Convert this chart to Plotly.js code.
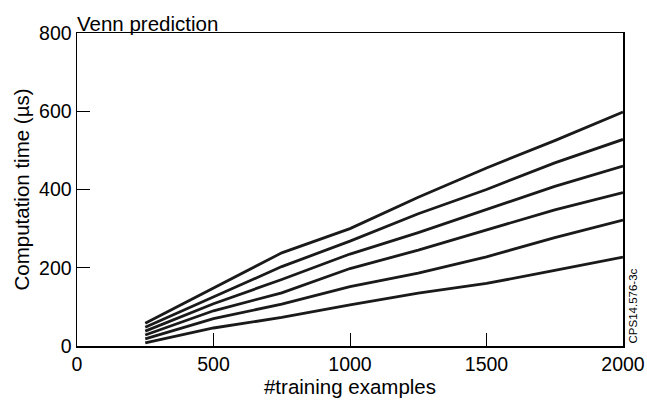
<!DOCTYPE html>
<html>
<head>
<meta charset="utf-8">
<script src="https://cdn.plot.ly/plotly-3.0.1.min.js"></script>
<style>html,body{margin:0;padding:0;background:#fff;}#chart{width:647px;height:401px;}</style>
</head>
<body>
<div id="chart"></div>
<script>
const trainingExamples = [250, 500, 750, 1000, 1250, 1500, 1750, 2000];
const series1 = [58, 148, 238, 300, 380, 455, 525, 598];
const series2 = [48, 126, 203, 268, 338, 400, 468, 528];
const series3 = [38, 108, 170, 235, 290, 350, 408, 460];
const series4 = [28, 90, 136, 198, 245, 296, 348, 392];
const series5 = [18, 70, 107, 152, 186, 228, 277, 322];
const series6 = [8, 46, 73, 105, 135, 160, 193, 227];
const allSeries = [series1, series2, series3, series4, series5, series6];
const xTicks = [0, 500, 1000, 1500, 2000];
const yTicks = [0, 200, 400, 600, 800];

const FONT = 'Liberation Sans, Arial, Helvetica, sans-serif';
const traces = allSeries.map(s => ({
  x: trainingExamples, y: s, type: 'scatter', mode: 'lines',
  line: {color: '#1a1a1a', width: 2.8}, showlegend: false, hoverinfo: 'skip'
}));

const layout = {
  width: 647, height: 401,
  margin: {l: 77, r: 24, t: 33, b: 55},
  paper_bgcolor: '#fff', plot_bgcolor: '#fff',
  font: {family: FONT, color: '#000', size: 18},
  xaxis: {
    range: [0, 2000], tickvals: xTicks, ticktext: xTicks.map(String),
    ticks: 'inside', ticklen: 13, tickwidth: 1, tickcolor: '#000',
    showline: true, linecolor: '#000', linewidth: 1.5, mirror: true,
    showgrid: false, zeroline: false, tickfont: {size: 19.5},
    title: {text: '#training examples', font: {size: 20.5}, standoff: 3}
  },
  yaxis: {
    range: [0, 800], tickvals: yTicks, ticktext: yTicks.map(String),
    ticks: 'inside', ticklen: 13, tickwidth: 1, tickcolor: '#000',
    showline: true, linecolor: '#000', linewidth: 1.5, mirror: true,
    showgrid: false, zeroline: false, tickfont: {size: 19.5},
    title: {text: 'Computation time (µs)', font: {size: 20.5}, standoff: 4}
  },
  annotations: [
    {text: 'Venn prediction', xref: 'paper', yref: 'paper', x: 0, y: 1,
     xanchor: 'left', yanchor: 'bottom', showarrow: false, font: {size: 20.5}, yshift: -4, xshift: -2},
    {text: 'CPS14.576-3c', xref: 'paper', yref: 'paper', x: 1, y: 0,
     xanchor: 'left', yanchor: 'bottom', showarrow: false, textangle: -90,
     font: {size: 11.5}, xshift: 1}
  ]
};
Plotly.newPlot('chart', traces, layout, {staticPlot: true, displayModeBar: false});
</script>
</body>
</html>
